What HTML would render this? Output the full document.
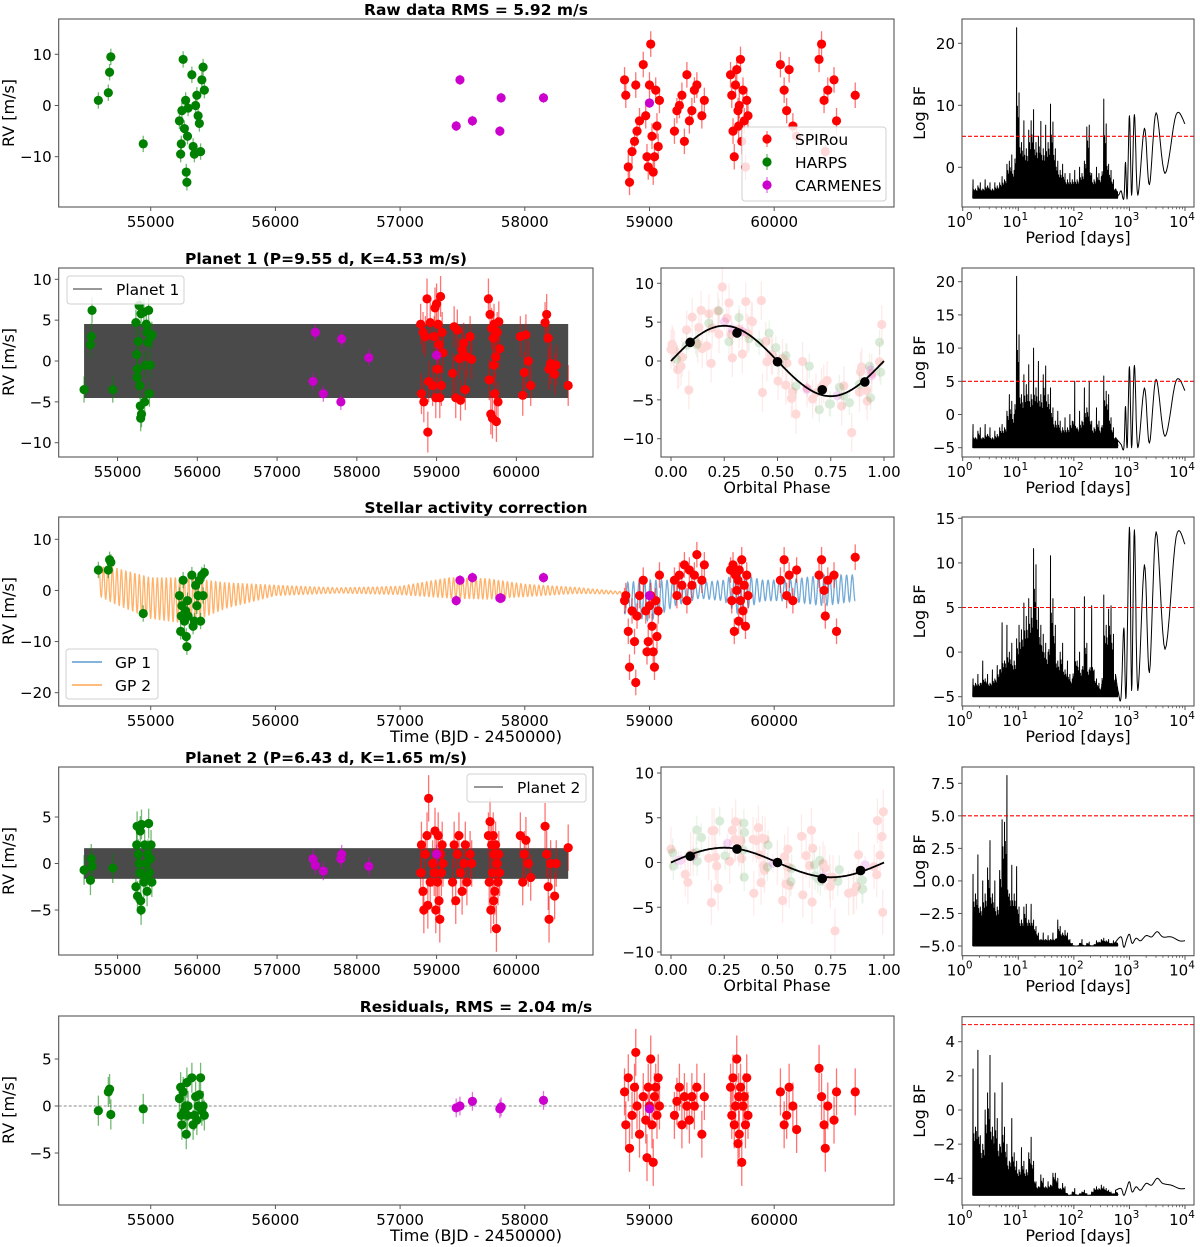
<!DOCTYPE html>
<html><head><meta charset="utf-8"><style>
html,body{margin:0;padding:0;background:#fff;}
svg{display:block;font-family:"DejaVu Sans","Liberation Sans",sans-serif;}
</style></head><body>
<svg id="fig" width="1200" height="1247" viewBox="0 0 1200 1247" xmlns="http://www.w3.org/2000/svg"></svg>
<script>
// ---------- DATA ----------
const spirouTimes = [58800,58810,58830,58840,58860,58880,58890,58900,58920,58950,58970,58980,58990,59000,59010,59020,59030,59040,59050,59060,59070,59080,
 59200,59220,59240,59260,59280,59300,59320,59340,59360,59380,59420,59440,
 59650,59660,59670,59680,59690,59700,59710,59715,59720,59730,59740,59750,59760,59770,59780,59790,
 60050,60080,60100,60120,60150,60180, 60360,60380,60400,60410,60430,60480,60500, 60650];
const harpsTimes = [54580,54660,54670,54680,54940,55230,55240,55245,55250,55260,55270,55280,55285,55290,55295,55300,55330,55340,55350,55360,55370,55380,55390,55400,55410,55420,55430];
const carmenesTimes = [57450,57480,57580,57800,57810,58150,59000];

const rawSpirou = [5,2,-12,-15,-9,-7,4,-5,-3,8,-2,-10,-12,4,12,-6,-13,-10,3,-4,-8,1,
 -5,-1,0,2,-7,6,-3,-1,3,4,-2,1,
 6,2,-5,-10,4,7,-1,-4,0,9,-7,3,-3,-12,1,-2,
 8,3,-1,7,-4,-6, 9,12,1,-9,3,5,-3, 2];
const rawHarps = [1,2.5,6.5,9.5,-7.5,-3,-9.5,-7.5,-1,9,-4.5,1,-13,-15,-6,-0.5,6,-8,-9.5,0,2,-2,-3.5,-9,5,7.5,3];
const rawCarmenes = [-4,5,-3,-5,1.5,1.5,0.5];

const p1Spirou = [4.5,-4,3.5,-5,3,7.6,-8.7,-2.5,4.7,-3,3,6.5,-4.5,7,-1,4.5,2,-4.5,7.9,-3,3.5,1,
 -1.5,4.2,-4.5,3.8,0.3,-4.8,1.3,2.2,-3.5,0.5,3,0.2,
 7.6,-2.3,5.7,-6.5,4,-7,2.8,-0.5,4.5,-4,0.5,-7.4,3.5,-5,4.8,1.5,
 3,-4.2,-1.4,3.2,0,-3, 4.7,5.7,2.8,-1,-0.3,-1.6,-0.5, -3];
const p1Harps = [-3.5,2,3,6.2,-3.5,4.7,0.8,-2,-1,2.4,6.8,-3,-5.5,-7,5.8,-6.5,6,-5,-0.5,4.5,3.5,2.3,6.2,-4,-0.5,3,3.2];
const p1Carmenes = [-2.5,3.5,-4,-5,2.7,0.4,0.7];

const actSpirou = [-2,-1,-8,-15,-4,-10,-18,-5,-1,2,-4,-12,-10,-3,-1,-7,-12,-15,-2,-9,-4,3,
 2,-1,3,1,5,-2,4,1,3,7,2,5,
 4,-2,5,-8,3,0,2,-6,4,-2,6,-4,1,-7,3,-1,
 2,6,-1,3,-2,4, 3,6,0,-5,2,3,-8, 6.5];
const actHarps = [4,4,6,5.5,-4.5,-1,-8,-5,-3,2,-6,-4,-9,-11,-2,-5,3,-7,-6,1,-3,-1,2,-6,3,-1,3.5];
const actCarmenes = [-2,2,2.5,-1.5,-1.5,2.5,-1];

const p2Spirou = [-1,2,-3,-5,1,3,-4.5,7,-2,0,-1,3.5,-5,1,-2,3,-4,-6,1,-1,2,0,
 -2,2,-4,1,3,-1,-3,0,2,-2,1,0,
 3,-2,4.5,-5,2,-1,3,-4,1,-3,2,-7,0,-2,1,-1,
 3,-2,1,2.5,0,-1.5, 4,1,-2.5,-6,0,-3.5,0, 1.7];
const p2Harps = [-0.7,-1.8,0.5,-0.3,-0.5,-2.5,2,4,-3.5,1,0,-1,3.5,-4,-5,4.2,-2,2,-1.5,0,-3,1,4.3,-1,0.5,2,-2];
const p2Carmenes = [0.5,-0.2,-0.8,0.5,1,-0.3,1];

const resSpirou = [1.5,-2,3,-4.5,-1,2,5.7,0,-3,1,-1.5,-5.5,2,0,5,-2,-6,1,2,-1,3,0,
 -1,0.5,2,-2,1,0,-1.5,1,0,2,-3,1,
 2,-1,3,-2,0,5,-4,1,-3,2,-6,0,1,-2,3,-1,
 1.5,-2,-1,2,0,-2.5, 4,1,-2,-4.5,0,-1.5,1.5, 1.5];
const resHarps = [-0.5,1.5,1.8,-0.9,-0.3,0.8,2,-1,-2,1.5,-0.5,0,-3,2.5,-1,0,3,-2,-1,1,-1.5,0,1.2,3,-0.5,0,-1];
const resCarmenes = [-0.2,0,0.5,-0.3,-0.1,0.6,-0.3];

const errSpirou = 2.5, errHarps = 1.6, errCarmenes = 1.0;

const planetPeriods = [9.55, 6.43];
const planetK = [4.53, 1.65];
const phaseBins1 = [0.09,0.31,0.50,0.71,0.91];
const phaseVals1 = [2.4,3.6,-0.1,-3.7,-2.7];
const phaseBins2 = [0.09,0.31,0.50,0.71,0.89];
const phaseVals2 = [0.7,1.5,0.0,-1.8,-0.9];

// GP model envelopes
const gp2Knots = [54580,54700,55000,55300,55600,56000,56500,57000,57400,57700,58000,58400,58800];
const gp2Center = [1.8,1,-1.5,-2,-1,0,0,0,0.5,0.3,0,0,-0.5];
const gp2Amp = [2.8,3.5,4,4.5,2.5,1,0.5,0.8,2,2,1.2,0.6,0.2];
const gp2Period = 36;
const gp1Knots = [58800,59000,59200,59400,59600,59700,59900,60100,60400,60650];
const gp1Center = [-1.5,-2,-0.5,0,0,-0.5,0,0,0,0.5];
const gp1Amp = [3,4,2.5,1.5,2,4,2,2,3,2.5];
const gp1Period = 45;

// Periodograms: spike heights on a log grid from logP 0.18 to 2.75, then smooth tail [logP, value]
const pgLogStart = 0.18, pgLogEnd = 2.75;
const pg1Heights = [-2,-3.5,-3,-2.5,-3.5,-2,-3,-2.5,-3.5,-2.5, -3,-2.5,-1.5,-2,0.5,1,2,-0.5,22.5,12, 4,7.5,3,6,7.5,9.3,4,5,7.4,3, 6.8,4,10.2,7.3,3,1,-0.5,0.5,-1,-2, -1,-2,-0.5,-2,0,-1,1,6.5,6.8,-1, -2,0,-1,-1.5,11,7,0.5,-0.5,-2,-3.5];
const pg1Tail = [[2.75,-3.5],[2.8,-4.5],[2.85,-3.8],[2.9,-5],[2.93,0.8],[2.96,-5],[3.0,8.3],[3.04,-4.5],[3.09,8.5],[3.15,-4.5],[3.27,6.3],[3.36,-2.8],[3.48,8.8],[3.64,-1],[3.84,8.5],[4.0,7]];
const pg2Heights = [-1.5,-3.5,-2.5,-2,-3.5,-1.5,-3,-2,-3.5,-2.5, -3,-2,-1.5,-2,0.5,3,2,0,20.8,12, 3,6,4.5,7.5,3,10,4,8,3,6, 7.3,3,4,1,-1,0.5,-1,-2,-0.5,-2, 0,-1,5,-2,0.5,-1,4,1,5,-1, -2,1,-1,-2,5.8,3.5,3,-0.5,-2,-3.5];
const pg2Tail = [[2.75,-3.5],[2.8,-4],[2.85,-4.5],[2.9,-5],[2.93,1.2],[2.96,-5],[3.0,7.2],[3.04,-5],[3.09,7.4],[3.15,-5],[3.27,4],[3.36,-4.3],[3.48,5.3],[3.64,-3.3],[3.84,5.1],[4.0,3.6]];
const pg3Heights = [-3,-3.5,-2.5,-3.5,-1,-3,-2.5,-3.5,-2,-3, -1.5,-2,3.3,-1,3,0,1,-1,1.5,3, 2.5,5.5,4,6,5,11.6,9.8,5,3,2, 1,0,10.8,6,3,-1,0,1,-2,-1, -2.5,-3,5,-1,0,-2,6.2,1,-2,5.2, -2,-3,-3.5,-4,6.4,3,4.8,5.2,2,-3.5];
const pg3Tail = [[2.75,-2.5],[2.8,-4.5],[2.85,-5],[2.9,2.7],[2.94,-5],[3.0,14],[3.04,-4.3],[3.09,13.7],[3.15,-4.3],[3.27,9.8],[3.36,-2.3],[3.48,13.5],[3.64,0.3],[3.84,12.9],[4.0,12.1]];
const pg4Heights = [0.5,-1,2,-2,0,-1,1,3.1,-1,0, -2,0.8,4.7,4.5,8.1,-1,1.2,-1,1.1,-2, -3,-2,-1.8,-3,-1.8,-3,-3.5,-4,-4.5,-4, -4.5,-4.2,-4.5,-4,-4.5,-3,-3.5,-4,-3.8,-4, -4.5,-4.8,-5,-5,-4.8,-4.5,-5,-4.8,-4.7,-5, -4.9,-4.6,-4.7,-4.5,-4.4,-4.6,-4.5,-4.8,-4.6,-4.7];
const pg4Tail = [[2.75,-4.7],[2.85,-4.3],[2.9,-5.1],[2.95,-4.5],[3.0,-4.1],[3.05,-4.8],[3.12,-4.4],[3.2,-4.6],[3.3,-4.2],[3.4,-4.3],[3.5,-3.9],[3.6,-4.3],[3.75,-4.3],[3.9,-4.6],[4.0,-4.6]];
const pg5Heights = [2.4,-1,3.5,-1.5,-2,0,1,3.2,-1,1, -0.5,-2,1.6,-1,-2,-3,-0.5,-2.5,-3,-3.5, -2.2,-3,-3.5,-2.5,-1.6,-3,-4.2,-4.5,-3.8,-4, -4.5,-4.2,-4.4,-3.7,-3.7,-4,-4.6,-4.3,-4.5,-4.9, -5,-4.8,-4.6,-5,-4.9,-4.8,-4.7,-4.9,-5,-4.8, -4.6,-4.5,-4.6,-4.4,-4.5,-4.6,-4.7,-4.8,-4.9,-4.8];
const pg5Tail = [[2.75,-4.7],[2.85,-4.6],[2.9,-5],[2.95,-4.6],[3.0,-4.2],[3.05,-4.8],[3.12,-4.5],[3.2,-4.7],[3.3,-4.3],[3.4,-4.4],[3.5,-4.0],[3.6,-4.3],[3.75,-4.4],[3.9,-4.6],[4.0,-4.6]];

const timeTicks = [55000,56000,57000,58000,59000,60000];
const phaseTicks = [0,0.25,0.5,0.75,1];
const decadeTicks = [0,1,2,3,4];

// ---------- RENDERING ----------
const NS = 'http://www.w3.org/2000/svg';
const svg = document.getElementById('fig');
function mk(tag, parent){ const e = document.createElementNS(NS, tag); parent.appendChild(e); return e; }
function lin(p1, v1, p2, v2){ return v => p1 + (v - v1) * (p2 - p1) / (v2 - v1); }
const fmt = v => (v < 0 ? '\u2212' : '') + Math.abs(v);
const TMIN = 54262, TMAX = 60961;

function frame(g, x0, y0, x1, y1){
  const r = mk('rect', g);
  r.setAttribute('x', x0); r.setAttribute('y', y0); r.setAttribute('width', x1 - x0); r.setAttribute('height', y1 - y0);
  r.setAttribute('fill', 'none'); r.setAttribute('stroke', '#555'); r.setAttribute('stroke-width', '1.1');
  
  
}
function text(g, x, y, s, anchor, size, weight, name){
  const t = mk('text', g);
  t.setAttribute('x', x); t.setAttribute('y', y); t.setAttribute('text-anchor', anchor || 'middle');
  t.setAttribute('font-size', size || 15); if (weight) t.setAttribute('font-weight', weight);
  t.setAttribute('fill', '#000');
  t.textContent = s;
  
  
  return t;
}
function line(g, x1, y1, x2, y2, stroke, w, name, extra){
  const l = mk('line', g);
  l.setAttribute('x1', x1); l.setAttribute('y1', y1); l.setAttribute('x2', x2); l.setAttribute('y2', y2);
  l.setAttribute('stroke', stroke); l.setAttribute('stroke-width', w);
  if (extra) l.setAttribute('stroke-dasharray', extra);
  
  
  return l;
}
function yTicks(g, x0, ys, ticks, decimals){
  ticks.forEach(v => {
    const y = ys(v);
    line(g, x0 - 4, y, x0, y, '#555', 1, 'y-tick');
    const lbl = decimals ? ((v < 0 ? '\u2212' : '') + Math.abs(v).toFixed(decimals)) : fmt(v);
    text(g, x0 - 7, y + 5.5, lbl, 'end', 15, null, 'y-tick-label');
  });
}
function xTimeTicks(g, xs, yb){
  timeTicks.forEach(t => {
    const x = xs(t);
    line(g, x, yb, x, yb + 4, '#555', 1, 'x-tick');
    text(g, x, yb + 20, String(t), 'middle', 15, null, 'x-tick-label');
  });
}
function series(g, times, vals, err, color, xs, ys, name, alpha){
  const n = Math.min(times.length, vals.length);
  const sg = mk('g', g);
  
  
  if (alpha) sg.setAttribute('opacity', alpha);
  for (let i = 0; i < n; i++){
    const x = xs(times[i]), y = ys(vals[i]);
    const e = line(sg, x, ys(vals[i] + err), x, ys(vals[i] - err), color, 1.3, 'error-bar');
    e.setAttribute('stroke-opacity', '0.55');
    const c = mk('circle', sg);
    c.setAttribute('cx', x); c.setAttribute('cy', y); c.setAttribute('r', 4.6); c.setAttribute('fill', color);
    
    
  }
}
function allSeries(g, xs, ys, S, H, C){
  series(g, spirouTimes, S, errSpirou, '#ff0000', xs, ys, 'spirou-series');
  series(g, harpsTimes, H, errHarps, '#008000', xs, ys, 'harps-series');
  series(g, carmenesTimes, C, errCarmenes, '#cc00cc', xs, ys, 'carmenes-series');
}
function ylabel(g, x, yc, s){
  const t = text(g, 0, 0, s, 'middle', 16, null, 'y-axis-title');
  t.setAttribute('transform', `translate(${x},${yc}) rotate(-90)`);
}
function interpKnots(kx, ky, t){
  if (t <= kx[0]) return ky[0];
  for (let i = 1; i < kx.length; i++) if (t <= kx[i]) { const f = (t - kx[i-1]) / (kx[i] - kx[i-1]); return ky[i-1] + f * (ky[i] - ky[i-1]); }
  return ky[ky.length - 1];
}
const allT = spirouTimes.concat(harpsTimes, carmenesTimes);
const tFirst = Math.min(...allT), tLast = Math.max(...allT);

function mainPanel(name, x0, y0, x1, y1, ys, ticks, S, H, C, opts){
  const g = mk('g', svg);
  
  
  const xs = lin(x0, TMIN, x1, TMAX);
  const clip = 'clip-' + name;
  const cp = mk('clipPath', g); cp.setAttribute('id', clip);
  const cr = mk('rect', cp); cr.setAttribute('x', x0); cr.setAttribute('y', y0); cr.setAttribute('width', x1 - x0); cr.setAttribute('height', y1 - y0);
  const inner = mk('g', g); inner.setAttribute('clip-path', `url(#${clip})`);
  
  
  if (opts.band !== undefined){
    const K = planetK[opts.band];
    const r = mk('rect', inner);
    r.setAttribute('x', xs(tFirst)); r.setAttribute('width', xs(tLast) - xs(tFirst));
    r.setAttribute('y', ys(K)); r.setAttribute('height', ys(-K) - ys(K)); r.setAttribute('fill', '#4a4a4a');
    
    
  }
  if (opts.gp){
    const drawGP = (kx, kc, ka, P, t0, t1, color, nm) => {
      let d = '';
      for (let t = t0; t <= t1; t += 2){
        const v = interpKnots(kx, kc, t) + interpKnots(kx, ka, t) * Math.sin(2 * Math.PI * t / P);
        d += (d ? 'L' : 'M') + xs(t).toFixed(1) + ',' + ys(v).toFixed(1);
      }
      const p = mk('path', inner);
      p.setAttribute('d', d); p.setAttribute('fill', 'none'); p.setAttribute('stroke', color); p.setAttribute('stroke-width', 1.3); p.setAttribute('stroke-opacity', 0.85);
      
      
    };
    drawGP(gp2Knots, gp2Center, gp2Amp, gp2Period, gp2Knots[0], gp2Knots[gp2Knots.length-1], '#ffa550', 'gp2-curve');
    drawGP(gp1Knots, gp1Center, gp1Amp, gp1Period, gp1Knots[0], gp1Knots[gp1Knots.length-1], '#5b9bd0', 'gp1-curve');
  }
  if (opts.zero){
    line(inner, x0, ys(0), x1, ys(0), '#888', 1, 'zero-line', '3,2');
  }
  allSeries(inner, xs, ys, S, H, C);
  frame(g, x0, y0, x1, y1);
  yTicks(g, x0, ys, ticks);
  xTimeTicks(g, xs, y1);
  return g;
}

function phasePanel(name, x0, y0, x1, y1, ys, idx, bins, bvals){
  const g = mk('g', svg);
  
  
  const xs = lin(671, 0, 884, 1);
  const P = planetPeriods[idx], K = planetK[idx];
  const ph = ts => ts.map(t => (((t - 58800) / P) % 1 + 1) % 1);
  const phased = (ts, res) => { const p = ph(ts); return res.map((r, i) => r + K * Math.sin(2 * Math.PI * p[i])); };
  series(g, ph(spirouTimes), phased(spirouTimes, resSpirou), errSpirou, '#ff0000', xs, ys, 'phased-spirou', 0.15);
  series(g, ph(harpsTimes), phased(harpsTimes, resHarps), errHarps, '#008000', xs, ys, 'phased-harps', 0.15);
  series(g, ph(carmenesTimes), phased(carmenesTimes, resCarmenes), errCarmenes, '#cc00cc', xs, ys, 'phased-carmenes', 0.15);
  let d = '';
  for (let i = 0; i <= 200; i++){ const f = i / 200; d += (i ? 'L' : 'M') + xs(f).toFixed(1) + ',' + ys(K * Math.sin(2 * Math.PI * f)).toFixed(1); }
  const p = mk('path', g);
  p.setAttribute('d', d); p.setAttribute('fill', 'none'); p.setAttribute('stroke', '#000'); p.setAttribute('stroke-width', 1.8);
  
  
  bins.forEach((b, i) => {
    const c = mk('circle', g);
    c.setAttribute('cx', xs(b)); c.setAttribute('cy', ys(bvals[i])); c.setAttribute('r', 4.8); c.setAttribute('fill', '#000');
    
    
  });
  frame(g, x0, y0, x1, y1);
  yTicks(g, x0, ys, [10,5,0,-5,-10]);
  phaseTicks.forEach(v => {
    const x = xs(v);
    line(g, x, y1, x, y1 + 4, '#555', 1, 'x-tick');
    text(g, x, y1 + 20, v.toFixed(2), 'middle', 15, null, 'x-tick-label');
  });
  text(g, 777, y1 + 36, 'Orbital Phase', 'middle', 16, null, 'x-axis-title');
}

const subFrac = [1, 0.55, 0.8, 0.4, 0.7, 0.3];
function pgPanel(name, y0, y1, ys, ticks, decimals, heights, tail){
  const x0 = 962, x1 = 1194;
  const g = mk('g', svg);
  
  
  const xs = lin(962.7, 0, 1185, 4);
  const step = (pgLogEnd - pgLogStart) / (heights.length - 1);
  let d = '';
  const base = ys(-5);
  heights.forEach((h, i) => {
    const lp = pgLogStart + i * step;
    const hn = i + 1 < heights.length ? heights[i + 1] : h;
    const ns = subFrac.length;
    for (let j = 0; j < ns; j++){
      const x = xs(lp + step * j / ns);
      const peak = j === 0 ? h : -5 + (Math.min(h, hn) + 5) * subFrac[j] + (Math.abs(h - hn)) * 0.15 * subFrac[j];
      d += (d ? 'L' : 'M') + x.toFixed(2) + ',' + base.toFixed(1);
      d += 'L' + (x + 0.35).toFixed(2) + ',' + ys(peak).toFixed(1);
    }
  });
  d += 'L' + xs(pgLogEnd).toFixed(1) + ',' + base.toFixed(1);
  for (let i = 0; i < tail.length - 1; i++){
    const p0 = tail[Math.max(0, i - 1)], p1 = tail[i], p2 = tail[i + 1], p3 = tail[Math.min(tail.length - 1, i + 2)];
    for (let s = 0; s <= 8; s++){
      const u = s / 8, u2 = u * u, u3 = u2 * u;
      const f = (a, b, c, e) => 0.5 * (2 * b + (-a + c) * u + (2 * a - 5 * b + 4 * c - e) * u2 + (-a + 3 * b - 3 * c + e) * u3);
      d += 'L' + xs(f(p0[0], p1[0], p2[0], p3[0])).toFixed(1) + ',' + ys(f(p0[1], p1[1], p2[1], p3[1])).toFixed(1);
    }
  }
  const p = mk('path', g);
  p.setAttribute('d', d); p.setAttribute('fill', 'none'); p.setAttribute('stroke', '#000'); p.setAttribute('stroke-width', 1.0); p.setAttribute('stroke-linejoin', 'round');
  
  
  line(g, x0, ys(5), x1, ys(5), '#ff0000', 1.1, 'detection-threshold-line', '4,2');
  frame(g, x0, y0, x1, y1);
  yTicks(g, x0, ys, ticks, decimals);
  decadeTicks.forEach(k => {
    const x = xs(k);
    line(g, x, y1, x, y1 + 4, '#555', 1, 'x-tick');
    const t = text(g, x - 3, y1 + 20, '10', 'middle', 15, null, 'x-tick-label');
    const sp = mk('tspan', t); sp.setAttribute('dy', -7); sp.setAttribute('font-size', 10.5); sp.textContent = String(k);
    if (k < 4) for (let m = 2; m <= 9; m++){ const xm = xs(k + Math.log10(m)); line(g, xm, y1, xm, y1 + 2.2, '#555', 0.8, 'minor-tick'); }
  });
  text(g, 1078, y1 + 36, 'Period [days]', 'middle', 16, null, 'x-axis-title');
  ylabel(g, 925, (y0 + y1) / 2, 'Log BF');
}

function legendBox(g, x, y, w, h){
  const r = mk('rect', g);
  r.setAttribute('x', x); r.setAttribute('y', y); r.setAttribute('width', w); r.setAttribute('height', h); r.setAttribute('rx', 3);
  r.setAttribute('fill', '#fff'); r.setAttribute('fill-opacity', 0.85); r.setAttribute('stroke', '#d0d0d0');
  
  
}

// ---- Row 1 ----
text(svg, 476, 15, 'Raw data RMS = 5.92 m/s', 'middle', 15.5, 'bold', 'title-raw-data');
const r1 = mainPanel('raw-data-panel', 58.7, 19, 894, 207, lin(54.3, 10, 156.7, -10), [10,0,-10], rawSpirou, rawHarps, rawCarmenes, {});
ylabel(r1, 14, 113, 'RV [m/s]');
{
  const lg = mk('g', svg);  
  legendBox(lg, 742, 127, 144, 74);
  [['SPIRou', '#ff0000'], ['HARPS', '#008000'], ['CARMENES', '#cc00cc']].forEach((e, i) => {
    const y = 139 + i * 23;
    const eg = mk('g', lg);
    
    
    line(eg, 767, y - 8, 767, y + 8, e[1], 1.3, 'legend-errorbar').setAttribute('stroke-opacity', 0.55);
    const c = mk('circle', eg); c.setAttribute('cx', 767); c.setAttribute('cy', y); c.setAttribute('r', 4.6); c.setAttribute('fill', e[1]);
    
    
    text(eg, 795, y + 6, e[0], 'start', 15.5, null, 'legend-label');
  });
}
pgPanel('periodogram-raw', 19, 207, lin(43.3, 20, 167.3, 0), [20,10,0], 0, pg1Heights, pg1Tail);

// ---- Row 2 ----
text(svg, 326, 264, 'Planet 1 (P=9.55 d, K=4.53 m/s)', 'middle', 15.5, 'bold', 'title-planet-1');
const r2 = mainPanel('planet1-panel', 58.7, 268, 593, 457, lin(279.3, 10, 442.7, -10), [10,5,0,-5,-10], p1Spirou, p1Harps, p1Carmenes, {band: 0});
ylabel(r2, 14, 362, 'RV [m/s]');
{
  const lg = mk('g', svg);  
  legendBox(lg, 67, 276, 117, 28);
  line(lg, 73, 289, 102, 289, '#777', 1.5, 'legend-line');
  text(lg, 116, 295, 'Planet 1', 'start', 15.5, null, 'legend-label');
}
phasePanel('planet1-phase-panel', 661, 268, 894, 457, lin(283.3, 10, 438.7, -10), 0, phaseBins1, phaseVals1);
pgPanel('periodogram-planet1', 268, 457, lin(281.7, 20, 447.7, -5), [20,15,10,5,0,-5], 0, pg2Heights, pg2Tail);

// ---- Row 3 ----
text(svg, 476, 513, 'Stellar activity correction', 'middle', 15.5, 'bold', 'title-activity');
const r3 = mainPanel('activity-panel', 58.7, 517, 894, 706, lin(539.3, 10, 692.7, -20), [10,0,-10,-20], actSpirou, actHarps, actCarmenes, {gp: true});
ylabel(r3, 14, 611, 'RV [m/s]');
text(svg, 476, 742, 'Time (BJD - 2450000)', 'middle', 16, null, 'x-axis-title');
{
  const lg = mk('g', svg);  
  legendBox(lg, 66, 649, 92, 50);
  line(lg, 72, 662, 102, 662, '#5b9bd0', 1.6, 'legend-line-gp1');
  text(lg, 115, 668, 'GP 1', 'start', 15.5, null, 'legend-label');
  line(lg, 72, 685, 102, 685, '#ffa550', 1.6, 'legend-line-gp2');
  text(lg, 115, 691, 'GP 2', 'start', 15.5, null, 'legend-label');
}
pgPanel('periodogram-activity', 517, 706, lin(518.3, 15, 696.7, -5), [15,10,5,0,-5], 0, pg3Heights, pg3Tail);

// ---- Row 4 ----
text(svg, 326, 763, 'Planet 2 (P=6.43 d, K=1.65 m/s)', 'middle', 15.5, 'bold', 'title-planet-2');
const r4 = mainPanel('planet2-panel', 58.7, 767, 593, 955, lin(817, 5, 910, -5), [5,0,-5], p2Spirou, p2Harps, p2Carmenes, {band: 1});
ylabel(r4, 14, 861, 'RV [m/s]');
{
  const lg = mk('g', svg);  
  legendBox(lg, 467, 774, 119, 28);
  line(lg, 474, 787, 503, 787, '#777', 1.5, 'legend-line');
  text(lg, 517, 793, 'Planet 2', 'start', 15.5, null, 'legend-label');
}
phasePanel('planet2-phase-panel', 661, 767, 894, 955, lin(773, 10, 952, -10), 1, phaseBins2, phaseVals2);
pgPanel('periodogram-planet2', 767, 955.7, lin(783.3, 7.5, 946, -5), [7.5,5,2.5,0,-2.5,-5], 1, pg4Heights, pg4Tail);

// ---- Row 5 ----
text(svg, 476, 1012, 'Residuals, RMS = 2.04 m/s', 'middle', 15.5, 'bold', 'title-residuals');
const r5 = mainPanel('residuals-panel', 58.7, 1016, 894, 1205, lin(1059, 5, 1153, -5), [5,0,-5], resSpirou, resHarps, resCarmenes, {zero: true});
ylabel(r5, 14, 1110, 'RV [m/s]');
text(svg, 476, 1241, 'Time (BJD - 2450000)', 'middle', 16, null, 'x-axis-title');
pgPanel('periodogram-residuals', 1016.7, 1205, lin(1041.7, 4, 1178.3, -4), [4,2,0,-2,-4], 0, pg5Heights, pg5Tail);
</script>
</body></html>
